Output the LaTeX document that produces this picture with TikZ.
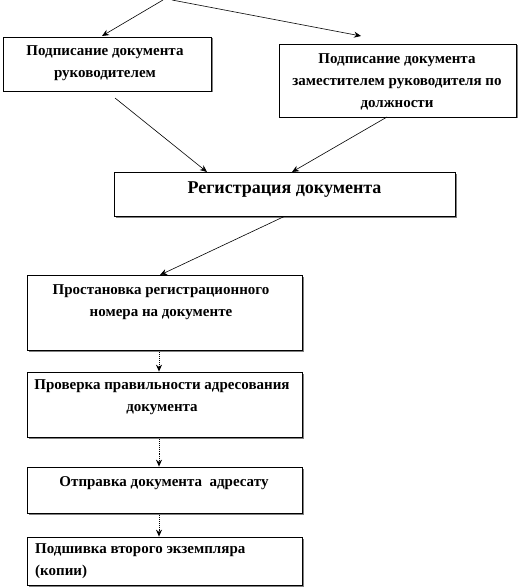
\documentclass[tikz,border=0pt]{standalone}
\usepackage{fontspec}
\setmainfont{Liberation Serif}
\usetikzlibrary{arrows.meta,shadows}
\begin{document}
\begin{tikzpicture}[x=1pt,y=-1pt,
  box/.style={draw, line width=0.7pt, fill=white, inner sep=0pt,
    drop shadow={shadow xshift=1.5pt, shadow yshift=-1.5pt, fill=black!50, opacity=1}},
  txt/.style={font=\bfseries\fontsize{15}{22}\selectfont, align=center, inner sep=0pt},
  conn/.style={line width=0.6pt, -{Stealth[length=7pt,width=6pt]}},
  vconn/.style={conn, line width=0.9pt, densely dotted}]
\useasboundingbox (0,0) rectangle (519,588);

\node[box, minimum width=208pt, minimum height=54pt] (b1) at (107,64) {};
\node[box, minimum width=237pt, minimum height=73pt] (b2) at (397.5,80.5) {};
\node[box, minimum width=341pt, minimum height=44pt] (b3) at (284.5,194) {};
\node[box, minimum width=275pt, minimum height=75pt] (b4) at (164.5,312.5) {};
\node[box, minimum width=275pt, minimum height=65pt] (b5) at (164.5,404.5) {};
\node[box, minimum width=275pt, minimum height=46pt] (b6) at (164.5,490) {};
\node[box, minimum width=275pt, minimum height=48pt] (b7) at (164.5,561) {};

\node[txt] (t1) at (105,63) {Подписание документа\\руководителем};
\node[txt] (t2) at (397,82) {Подписание документа\\заместителем руководителя по\\должности};
\node[txt, font=\bfseries\fontsize{18}{20}\selectfont] (t3) at (284.5,190) {Регистрация документа};
\node[txt] (t4) at (161,302) {Простановка регистрационного\\номера на документе};
\node[txt] (t5) at (162,397) {Проверка правильности адресования\\документа};
\node[txt] (t6) at (164,483) {Отправка документа\ \ адресату};
\node[txt, align=left, anchor=west] (t7) at (35,561) {Подшивка второго экземпляра\\(копии)};

\coordinate (s1) at (163,0);
\coordinate (s2) at (172,0);
\coordinate (e1) at (102,36);
\coordinate (e2) at (361,36);
\coordinate (s3) at (115,98);
\coordinate (e3) at (207,172);
\coordinate (s4) at (387,117);
\coordinate (e4) at (292,172);
\coordinate (e5) at (160,275);

\draw[conn] (s1) -- (e1);
\draw[conn] (s2) -- (e2);
\draw[conn] (s3) -- (e3);
\draw[conn] (s4) -- (e4);
\draw[conn] (b3.south) -- (e5);
\draw[vconn] (b4.south -| 159,0) -- (b5.north -| 159,0);
\draw[vconn] (b5.south -| 159,0) -- (b6.north -| 159,0);
\draw[vconn] (b6.south -| 159,0) -- (b7.north -| 159,0);
\end{tikzpicture}
\end{document}
